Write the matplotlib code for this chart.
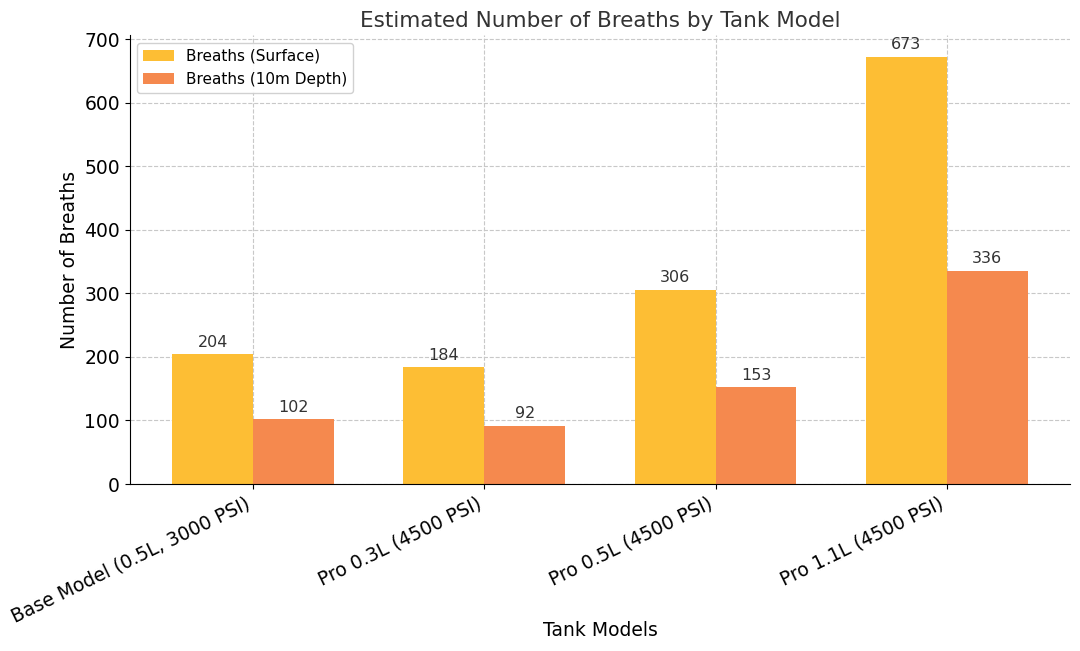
import matplotlib
matplotlib.use("Agg")
import matplotlib.pyplot as plt
import numpy as np

models = ["Base Model (0.5L, 3000 PSI)", "Pro 0.3L (4500 PSI)",
          "Pro 0.5L (4500 PSI)", "Pro 1.1L (4500 PSI)"]
surface = [204, 184, 306, 673]
depth = [102, 92, 153, 336]

fig, ax = plt.subplots(figsize=(10.8, 6.51), dpi=100)
fig.subplots_adjust(left=0.12, right=0.991, top=0.946, bottom=0.2565)

x = np.arange(len(models))
w = 0.35
b1 = ax.bar(x - w / 2, surface, w, color="#FDBE34", label="Breaths (Surface)", zorder=2)
b2 = ax.bar(x + w / 2, depth, w, color="#F5894E", label="Breaths (10m Depth)", zorder=2)

for bars in (b1, b2):
    for r in bars:
        ax.annotate(f"{int(r.get_height())}", (r.get_x() + r.get_width() / 2, r.get_height()),
                    xytext=(0, 3), textcoords="offset points", ha="center", va="bottom",
                    fontsize=11.5, color="#333333")

ax.set_title("Estimated Number of Breaths by Tank Model", fontsize=15.5, color="#333333")
ax.set_xlabel("Tank Models", fontsize=13.5)
ax.xaxis.set_label_coords(0.5, -0.305)
ax.set_ylabel("Number of Breaths", fontsize=13.5)
ax.set_xticks(x)
ax.set_xticklabels(models, rotation=26, ha="right", fontsize=13.5)
ax.tick_params(axis="y", labelsize=13.5)
ax.set_yticks(range(0, 701, 100))
ax.grid(True, linestyle="--", color="#c8c8c8", linewidth=0.8, zorder=0)
ax.set_axisbelow(True)
ax.spines["top"].set_visible(False)
ax.spines["right"].set_visible(False)
ax.legend(loc="upper left", fontsize=11, framealpha=0.9)

fig.savefig("out.png", dpi=100)
